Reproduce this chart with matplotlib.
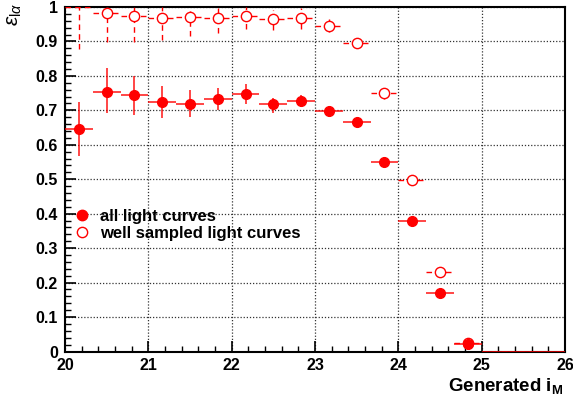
import numpy as np
import matplotlib
matplotlib.use("Agg")
import matplotlib.pyplot as plt
from matplotlib.lines import Line2D
from matplotlib.ticker import MultipleLocator

plt.rcParams['font.family'] = ['Liberation Sans', 'DejaVu Sans']
plt.rcParams['mathtext.fontset'] = 'custom'
plt.rcParams['mathtext.rm'] = 'Liberation Sans'
plt.rcParams['mathtext.it'] = 'Liberation Sans:italic'
plt.rcParams['mathtext.bf'] = 'Liberation Sans:bold'

# bin centres of generated i_M (bin width 1/3 mag)
mag_bins = [20.167, 20.5, 20.833, 21.167, 21.5, 21.833, 22.167, 22.5, 22.833,
            23.167, 23.5, 23.833, 24.167, 24.5, 24.833, 25.167, 25.5, 25.833]
half_width = 1.0 / 6.0

# all light curves
eff_all = [0.645, 0.754, 0.745, 0.723, 0.718, 0.733, 0.747, 0.718, 0.728,
           0.698, 0.665, 0.551, 0.378, 0.169, 0.021, 0.0, 0.0, 0.0]
err_all_lo = [0.077, 0.063, 0.058, 0.046, 0.038, 0.032, 0.029, 0.025, 0.019,
              0.012, 0.010, 0.010, 0.010, 0.008, 0.005, 0.0, 0.0, 0.0]
err_all_hi = [0.079, 0.068, 0.055, 0.048, 0.041, 0.033, 0.029, 0.017, 0.017,
              0.012, 0.010, 0.010, 0.010, 0.008, 0.005, 0.0, 0.0, 0.0]

# well sampled light curves
eff_well = [1.0, 0.982, 0.974, 0.969, 0.970, 0.967, 0.975, 0.964, 0.967,
            0.946, 0.895, 0.749, 0.498, 0.230, 0.025, 0.0, 0.0, 0.0]
err_well_lo = [0.123, 0.085, 0.077, 0.065, 0.054, 0.043, 0.040, 0.031, 0.032,
               0.020, 0.015, 0.015, 0.012, 0.010, 0.005, 0.0, 0.0, 0.0]
err_well_hi = [0.0, 0.018, 0.026, 0.031, 0.030, 0.033, 0.025, 0.027, 0.029,
               0.020, 0.015, 0.015, 0.012, 0.010, 0.005, 0.0, 0.0, 0.0]

x_ticks = [20, 21, 22, 23, 24, 25, 26]
y_ticks = [0, 0.1, 0.2, 0.3, 0.4, 0.5, 0.6, 0.7, 0.8, 0.9, 1]
y_tick_labels = ['0', '0.1', '0.2', '0.3', '0.4', '0.5', '0.6', '0.7', '0.8', '0.9', '1']

red = '#ff0000'

fig = plt.figure(figsize=(5.73, 4.03), dpi=100)
ax = fig.add_axes([65 / 573, (403 - 351.5) / 403, 500 / 573, 344.5 / 403])

x = np.array(mag_bins)
xerr = np.full(len(x), half_width)

# well sampled: dashed error bars, open markers
eb = ax.errorbar(x, eff_well, yerr=[err_well_lo, err_well_hi], xerr=xerr,
                 fmt='none', ecolor=red, elinewidth=1.0, capsize=0, zorder=3)
for lc in eb.lines[2]:
    lc.set_linestyle((0, (4, 3)))
ew = np.array(eff_well)
vis = (ew > 0) & (ew < 1)
ax.plot(x[vis], ew[vis], 'o', ms=7.4, mfc='white', mec=red, mew=1.0,
        ls='none', zorder=4)

# all light curves: solid error bars, filled markers
eb2 = ax.errorbar(x, eff_all, yerr=[err_all_lo, err_all_hi], xerr=xerr,
                  fmt='none', ecolor=red, elinewidth=1.2, capsize=0, zorder=5)
for lc in eb2.lines[2]:
    lc.set_alpha(0.85)
ea = np.array(eff_all)
vis = (ea > 0) & (ea < 1)
ax.plot(x[vis], ea[vis], 'o', ms=7.0, mfc=red, mec=red, ls='none', zorder=6)

ax.set_xlim(20, 26)
ax.set_ylim(0, 1)
ax.set_xticks(x_ticks)
ax.set_xticklabels([str(t) for t in x_ticks])
ax.set_yticks(y_ticks)
ax.set_yticklabels(y_tick_labels)
ax.xaxis.set_minor_locator(MultipleLocator(0.2))
ax.yaxis.set_minor_locator(MultipleLocator(0.02))
ax.tick_params(which='both', direction='in', top=False, right=False)
ax.tick_params(which='major', length=8, width=1.2, labelsize=11.5, pad=5)
ax.tick_params(which='minor', length=4, width=1.0)
for lab in ax.get_xticklabels() + ax.get_yticklabels():
    lab.set_fontweight('bold')
ax.grid(True, which='major', color='#333333', linestyle=(0, (1, 1.5)), linewidth=0.9)
ax.set_axisbelow(True)
for sp in ax.spines.values():
    sp.set_linewidth(1.5)

handles = [Line2D([], [], marker='o', ls='none', ms=7.5, mfc=red, mec=red),
           Line2D([], [], marker='o', ls='none', ms=7.4, mfc='white', mec=red, mew=1.0)]
ax.legend(handles, ['all light curves', 'well sampled light curves'],
          loc='upper left', bbox_to_anchor=(0.017, 0.415), frameon=False,
          handlelength=1.0, handletextpad=0.6, labelspacing=0.12, borderpad=0,
          borderaxespad=0, prop={'weight': 'bold', 'size': 12})

fig.text(563 / 573, (403 - 391) / 403, r'Generated $\mathbf{i_{M}}$',
         ha='right', va='baseline', fontsize=13.5, fontweight='bold')
fig.text(14 / 573, (403 - 3) / 403, r'$\varepsilon_{\mathrm{l}\alpha}$',
         rotation=90, ha='center', va='top', fontsize=15)

fig.savefig('out.png', dpi=100)
